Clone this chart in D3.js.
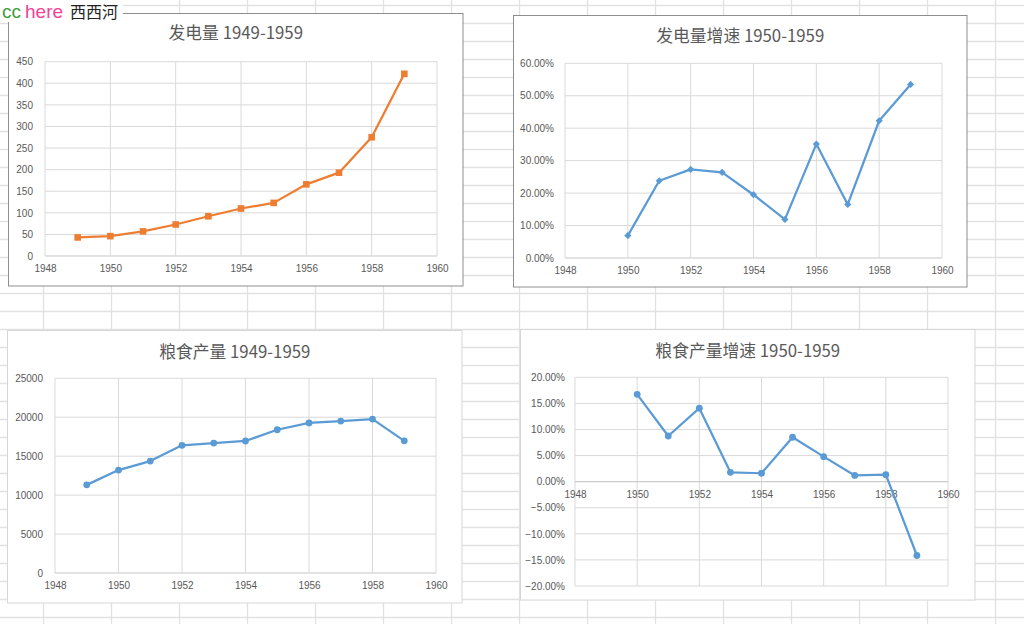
<!DOCTYPE html>
<html><head><meta charset="utf-8">
<script src="https://cdn.jsdelivr.net/npm/d3@7"></script>
<style>body{margin:0;background:#fff;overflow:hidden}svg{display:block}</style>
</head><body><svg id="c" width="1024" height="624"></svg>
<script>
// ---- data ----
const years = [1949,1950,1951,1952,1953,1954,1955,1956,1957,1958,1959];
const powerOutput = [43,46,57,73,92,110,123,166,193,275,422];
const growthYears = [1950,1951,1952,1953,1954,1955,1956,1957,1958,1959];
const powerGrowth = [0.069,0.238,0.273,0.264,0.195,0.119,0.351,0.165,0.423,0.535];
const grainOutput = [11318,13213,14369,16392,16683,16952,18394,19275,19505,19765,16968];
const grainGrowth = [0.1674,0.0875,0.1408,0.0178,0.0161,0.0851,0.0479,0.0119,0.0133,-0.1415];
const xTicks = [1948,1950,1952,1954,1956,1958,1960];
const powerTicks = [0,50,100,150,200,250,300,350,400,450];
const powerGrowthTicks = [0,0.1,0.2,0.3,0.4,0.5,0.6];
const grainTicks = [0,5000,10000,15000,20000,25000];
const grainGrowthTicks = [-0.2,-0.15,-0.1,-0.05,0,0.05,0.1,0.15,0.2];
const titles = ["发电量 1949-1959","发电量增速 1950-1959","粮食产量 1949-1959","粮食产量增速 1950-1959"];

const svg = d3.select("#c");
const W = 1024, H = 624;

// ---- spreadsheet background grid ----
const bg = svg.append("g");
bg.append("rect").attr("width",W).attr("height",H).attr("fill","#fff");
d3.range(0,16).forEach(k=>{
  const x = 43.5 + 68*k;
  bg.append("line").attr("x1",x).attr("x2",x).attr("y1",0).attr("y2",H)
    .attr("stroke","#e1e1e1").attr("stroke-width",1.3);
});
d3.range(0,36).forEach(k=>{
  const y = 5.5 + 18*k;
  bg.append("line").attr("x1",0).attr("x2",W).attr("y1",y).attr("y2",y)
    .attr("stroke","#e1e1e1").attr("stroke-width",1.3);
});

const pct = d3.format(".2%");
const charts = [
  {box:[8.5,13.5,463,286], border:"#8e8e8e", plot:[45,61.7,437,256], title:titles[0],
   yDomain:[0,450], yTicks:powerTicks, yFmt:d=>String(d), xs:years, ys:powerOutput,
   color:"#ED7D31", marker:"square", labelGap:12},
  {box:[513.5,15.5,967,287], border:"#8e8e8e", plot:[565,63.3,942,258], title:titles[1],
   yDomain:[0,0.6], yTicks:powerGrowthTicks, yFmt:pct, xs:growthYears, ys:powerGrowth,
   color:"#5B9BD5", marker:"diamond", labelGap:11},
  {box:[7.5,330.5,462,603], border:"#d6d6d6", plot:[55,378.3,436,573], title:titles[2],
   yDomain:[0,25000], yTicks:grainTicks, yFmt:d=>String(d), xs:years, ys:grainOutput,
   color:"#5B9BD5", marker:"circle", labelGap:12},
  {box:[520.5,329.5,975,600], border:"#d6d6d6", plot:[575,377.3,948,586], title:titles[3],
   yDomain:[-0.2,0.2], yTicks:grainGrowthTicks, yFmt:pct, xs:growthYears, ys:grainGrowth,
   color:"#5B9BD5", marker:"circle", labelGap:10, zeroAxis:true}
];

const titleYs = [39,41.5,357.5,356.5];

charts.forEach((c,i)=>{
  const g = svg.append("g");
  const [bx0,by0,bx1,by1] = c.box;
  g.append("rect").attr("x",bx0).attr("y",by0).attr("width",bx1-bx0).attr("height",by1-by0)
    .attr("fill","#fff").attr("stroke",c.border).attr("stroke-width",1);
  const [l,t,r,b] = c.plot;
  const x = d3.scaleLinear().domain([1948,1960]).range([l,r]);
  const y = d3.scaleLinear().domain(c.yDomain).range([b,t]);

  // gridlines
  xTicks.forEach(v=>{
    g.append("line").attr("x1",x(v)).attr("x2",x(v)).attr("y1",t).attr("y2",b)
      .attr("stroke","#d9d9d9").attr("stroke-width",1);
  });
  c.yTicks.forEach(v=>{
    g.append("line").attr("x1",l).attr("x2",r).attr("y1",y(v)).attr("y2",y(v))
      .attr("stroke","#d9d9d9").attr("stroke-width",1);
  });
  const axisY = c.zeroAxis ? y(0) : b;
  g.append("line").attr("x1",l).attr("x2",r).attr("y1",axisY).attr("y2",axisY)
    .attr("stroke", c.zeroAxis ? "#c8c8c8" : "#d9d9d9").attr("stroke-width",1);

  // axes (labels only)
  const xa = g.append("g").attr("transform",`translate(0,${axisY})`)
    .call(d3.axisBottom(x).tickValues(xTicks).tickSize(0).tickPadding(9).tickFormat(d3.format("d")));
  xa.select(".domain").remove();
  xa.selectAll("text").attr("fill","#595959").style("font-family","'Liberation Sans',Arial,sans-serif").style("font-size","10px");

  const ya = g.append("g").attr("transform",`translate(${l-c.labelGap},0)`)
    .call(d3.axisLeft(y).tickValues(c.yTicks).tickSize(0).tickPadding(0).tickFormat(c.yFmt));
  ya.select(".domain").remove();
  ya.selectAll("text").attr("fill","#595959").style("font-family","'Liberation Sans',Arial,sans-serif").style("font-size","10px");

  // title
  g.append("text").attr("x",(bx0+bx1)/2).attr("y",titleYs[i]).attr("text-anchor","middle")
    .attr("fill","#595959").style("font-family","'Noto Sans CJK SC','Noto Sans',sans-serif")
    .style("font-size","16.8px").text(c.title);

  // line
  const pts = c.xs.map((xv,j)=>[xv,c.ys[j]]);
  g.append("path").datum(pts)
    .attr("d", d3.line().x(d=>x(d[0])).y(d=>y(d[1])))
    .attr("fill","none").attr("stroke",c.color).attr("stroke-width",2.25)
    .attr("stroke-linejoin","round");

  // markers
  const mg = g.append("g").attr("fill",c.color);
  pts.forEach(d=>{
    const px = x(d[0]), py = y(d[1]);
    if (c.marker==="square") {
      mg.append("rect").attr("x",px-3.3).attr("y",py-3.3).attr("width",6.6).attr("height",6.6);
    } else if (c.marker==="diamond") {
      mg.append("path").attr("d",`M${px},${py-3.6}L${px+3.6},${py}L${px},${py+3.6}L${px-3.6},${py}Z`);
    } else {
      mg.append("circle").attr("cx",px).attr("cy",py).attr("r",3.4);
    }
  });
});

// ---- watermark ----
const wm = svg.append("g");
wm.append("rect").attr("x",0).attr("y",0).attr("width",123).attr("height",22).attr("fill","#fff");
const wt = wm.append("text").attr("x",2).attr("y",18).style("font-size","19px")
  .style("font-family","'Liberation Sans',Arial,sans-serif");
wt.append("tspan").attr("fill","#3d9c3d").text("cc");
wt.append("tspan").attr("fill","#f2439b").attr("dx",4).text("here");
wm.append("text").attr("x",70).attr("y",18).attr("fill","#222").style("font-size","16px")
  .style("font-family","'Noto Sans CJK SC',sans-serif").text("西西河");
</script>
</body></html>
